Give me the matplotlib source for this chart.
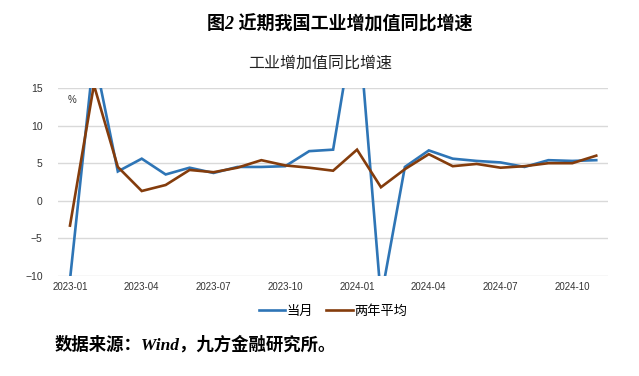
import matplotlib

# 无显示环境, 使用 Agg
matplotlib.use("Agg")
import matplotlib.pyplot as plt
import pandas as pd

plt.rcParams["font.family"] = ["Liberation Sans", "Noto Sans CJK SC", "DejaVu Sans"]
plt.rcParams["axes.unicode_minus"] = True

# -- 数据 --
months = pd.date_range("2023-01", periods=23, freq="MS")
month_labels = [d.strftime("%Y-%m") for d in months]
dangyue = [-10.5, 19.5, 3.9, 5.6, 3.5, 4.4, 3.7, 4.5, 4.5, 4.6, 6.6, 6.8,
           26.0, -13.0, 4.5, 6.7, 5.6, 5.3, 5.1, 4.5, 5.4, 5.3, 5.4]
liangnian = [-3.3, 15.4, 4.5, 1.3, 2.1, 4.1, 3.8, 4.4, 5.4, 4.7, 4.4, 4.0,
             6.8, 1.8, 4.2, 6.2, 4.6, 4.9, 4.4, 4.6, 5.0, 5.0, 6.0]
series_names = ["当月", "两年平均"]
y_ticks = [-10, -5, 0, 5, 10, 15]

# -- 样式 --
blue = "#2E75B6"
brown = "#843C0C"
grid_color = "#d9d9d9"
cjk_serif = ["Liberation Serif", "Noto Sans CJK SC"]

fig = plt.figure(figsize=(6.39, 3.76), dpi=100)
ax = fig.add_axes([0.0908, 0.266, 0.861, 0.5])

x = list(range(len(months)))
ax.plot(x, dangyue, color=blue, lw=1.9, label=series_names[0], solid_joinstyle="miter")
ax.plot(x, liangnian, color=brown, lw=1.9, label=series_names[1], solid_joinstyle="miter")

ax.set_xlim(-0.5, len(months) - 0.5)
ax.set_ylim(-10, 15)
ax.set_yticks(y_ticks)
ax.set_yticklabels([f"{v}".replace("-", "\u2212") for v in y_ticks], fontsize=7.5, color="#333333")
ax.set_xticks(x[::3])
ax.set_xticklabels(month_labels[::3], fontsize=7, color="#333333")
ax.tick_params(axis="y", length=0, pad=11)
ax.tick_params(axis="x", length=0, pad=4)

# 网格线
ax.yaxis.grid(True, color=grid_color, lw=1)
ax.set_axisbelow(True)
for s in ax.spines.values():
    s.set_visible(False)

ax.text(0.018, 0.92, "%", transform=ax.transAxes, fontsize=7, color="#333333")

# 标题
fig.text(0.532, 0.935, "图2 近期我国工业增加值同比增速", ha="center", va="center",
         fontsize=13, fontweight="bold", style="italic", family=cjk_serif)
fig.text(0.501, 0.832, "工业增加值同比增速", ha="center", va="center",
         fontsize=11.5, color="#222222")

# 图例
ax.legend(loc="center", bbox_to_anchor=(0.5, -0.19), ncols=2, frameon=False,
          fontsize=9.5, handlelength=2.0, handletextpad=0.1, columnspacing=1.0)

# 数据来源
fig.text(0.086, 0.082, "数据来源：Wind，九方金融研究所。", ha="left", va="center",
         fontsize=12.5, fontweight="bold", style="italic", family=cjk_serif)

fig.savefig("out.png", dpi=100)
